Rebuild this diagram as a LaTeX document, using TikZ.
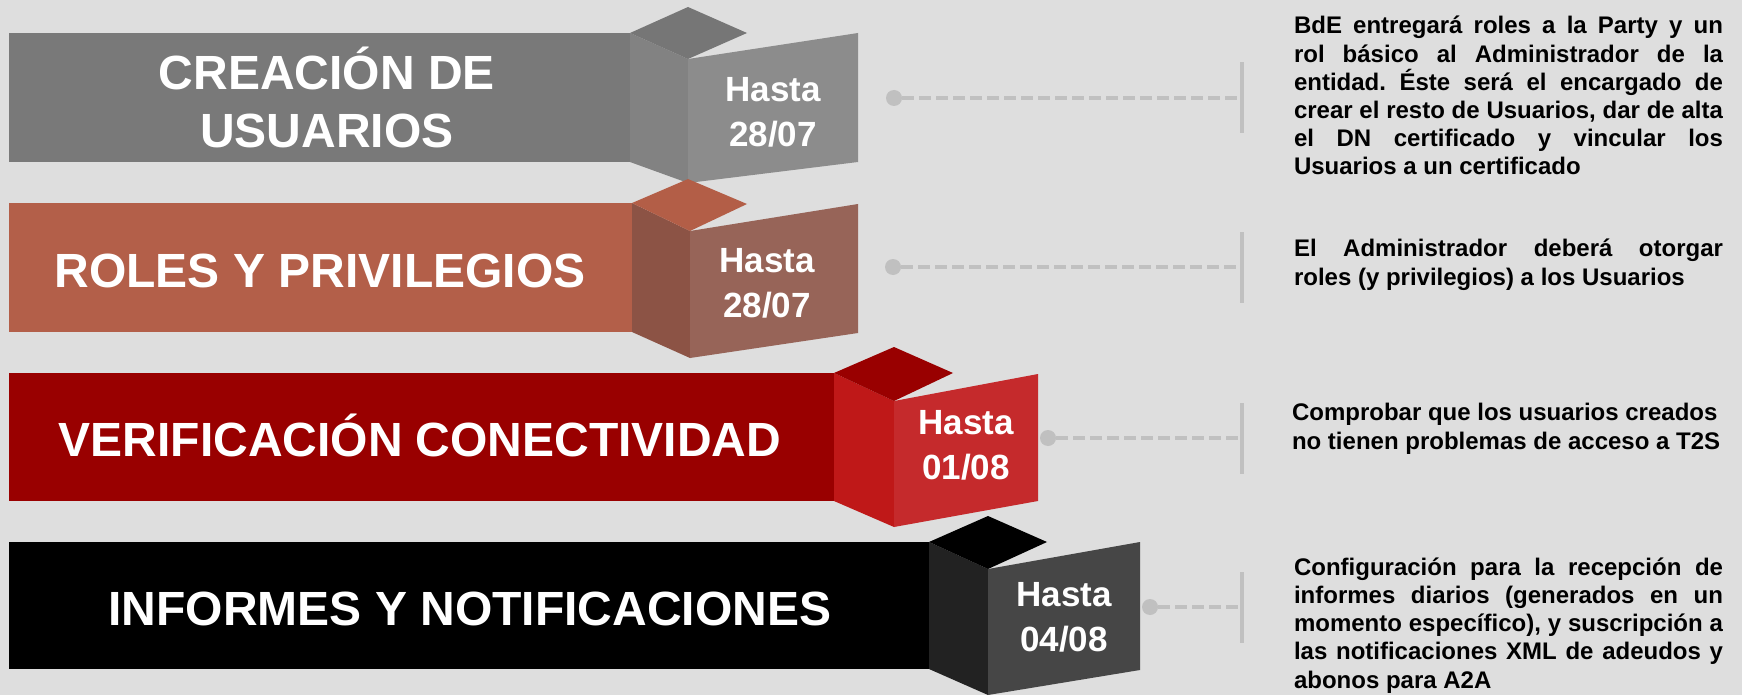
\documentclass[tikz,border=0pt]{standalone}
\usepackage{fontspec}
\setmainfont{Liberation Sans}
\frenchspacing
\definecolor{bg}{HTML}{DEDEDE}
\definecolor{linegray}{HTML}{C0C0C0}
\definecolor{cAbar}{HTML}{797979}
\definecolor{cAside}{HTML}{828282}
\definecolor{cAtop}{HTML}{767676}
\definecolor{cAfront}{HTML}{8C8C8C}
\definecolor{cBbar}{HTML}{B35F49}
\definecolor{cBside}{HTML}{8C5345}
\definecolor{cBtop}{HTML}{B35E47}
\definecolor{cBfront}{HTML}{976458}
\definecolor{cCbar}{HTML}{990000}
\definecolor{cCside}{HTML}{BF1818}
\definecolor{cCtop}{HTML}{990000}
\definecolor{cCfront}{HTML}{C52A2C}
\definecolor{cDbar}{HTML}{000000}
\definecolor{cDside}{HTML}{222222}
\definecolor{cDtop}{HTML}{000000}
\definecolor{cDfront}{HTML}{464646}
\newcommand\jl[1]{\makebox[429pt][s]{#1}}
\begin{document}
\begin{tikzpicture}[x=1pt,y=-1pt,
  every node/.style={inner sep=0pt, outer sep=0pt},
  barbox/.style={rectangle, anchor=north west, minimum height=129pt},
  bartext/.style={text=white, font=\fontsize{48}{58}\selectfont\bfseries, align=center, anchor=base},
  hastatext/.style={text=white, font=\fontsize{35}{45}\selectfont\bfseries, align=center, anchor=base},
  desc/.style={text=black, font=\fontsize{24}{28.2}\selectfont\bfseries\frenchspacing, align=left, anchor=base west},
  dotnode/.style={circle, fill=linegray, minimum size=16pt},
  ticknode/.style={rectangle, fill=linegray, minimum width=4pt, minimum height=71pt},
  link/.style={draw=linegray, line width=4pt, dash pattern=on 12pt off 5pt},
]
\fill[bg] (0,0) rectangle (1742,695);
\useasboundingbox (0,0) rectangle (1742,695);

% ---------- Row 1 ----------
\node[barbox, fill=cAbar, minimum width=621pt] (bar1) at (9,33) {};
\fill[cAside] (630,33) -- (688,59) -- (688,183) -- (630,162) -- cycle;
\fill[cAtop] (630,33) -- (688,7) -- (747,33) -- (688,59) -- cycle;
\fill[cAfront] (688,59) -- (858,33) -- (858,162) -- (688,183) -- cycle;
\node[bartext] (t1) at (327,148) {CREACIÓN DE\\USUARIOS};
\node[hastatext] (h1) at (773,147) {Hasta\\28/07};

% ---------- Row 2 ----------
\node[barbox, fill=cBbar, minimum width=623pt] (bar2) at (9,203) {};
\fill[cBside] (632,203) -- (690,231) -- (690,358) -- (632,332) -- cycle;
\fill[cBtop] (632,203) -- (688,179) -- (747,204) -- (690,231) -- cycle;
\fill[cBfront] (690,231) -- (858,204) -- (858,333) -- (690,358) -- cycle;
\node[bartext] (t2) at (320,287) {ROLES Y PRIVILEGIOS};
\node[hastatext] (h2) at (767,317) {Hasta\\28/07};

% ---------- Row 3 ----------
\node[barbox, fill=cCbar, minimum width=825pt, minimum height=128pt] (bar3) at (9,373) {};
\fill[cCside] (834,373) -- (894,401) -- (894,527) -- (834,501) -- cycle;
\fill[cCtop] (834,373) -- (894,347) -- (953,373) -- (894,401) -- cycle;
\fill[cCfront] (894,401) -- (1038,374) -- (1038,501) -- (894,527) -- cycle;
\node[bartext] (t3) at (420,456) {VERIFICACIÓN CONECTIVIDAD};
\node[hastatext] (h3) at (966,479) {Hasta\\01/08};

% ---------- Row 4 ----------
\node[barbox, fill=cDbar, minimum width=920pt, minimum height=127pt] (bar4) at (9,542) {};
\fill[cDside] (929,542) -- (988,569) -- (988,695) -- (929,669) -- cycle;
\fill[cDtop] (929,542) -- (988,516) -- (1047,542) -- (988,569) -- cycle;
\fill[cDfront] (988,569) -- (1140,542) -- (1140,670) -- (988,695) -- cycle;
\node[bartext] (t4) at (470,625) {INFORMES Y NOTIFICACIONES};
\node[hastatext] (h4) at (1064,651) {Hasta\\04/08};

% ---------- Connectors ----------
\node[dotnode] (d1) at (894,98) {};
\node[ticknode] (k1) at (1242,98) {};
\draw[link] (d1) -- (k1);
\node[dotnode] (d2) at (893,267) {};
\node[ticknode] (k2) at (1242,267) {};
\draw[link] (d2) -- (k2);
\node[dotnode] (d3) at (1048,438) {};
\node[ticknode] (k3) at (1242,438) {};
\draw[link] (d3) -- (k3);
\node[dotnode] (d4) at (1150,607) {};
\node[ticknode] (k4) at (1242,607) {};
\draw[link] (d4) -- (k4);

% ---------- Descriptions ----------
\node[desc] (p1) at (1294,175) {\jl{BdE entregará roles a la Party y un}\\
\jl{rol básico al Administrador de la}\\
\jl{entidad. Éste será el encargado de}\\
\jl{crear el resto de Usuarios, dar de alta}\\
\jl{el DN certificado y vincular los}\\
Usuarios a un certificado};
\node[desc] (p2) at (1294,285) {\jl{El Administrador deberá otorgar}\\
roles (y privilegios) a los Usuarios};
\node[desc] (p3) at (1292,449) {Comprobar que los usuarios creados\\
no tienen problemas de acceso a T2S};
\node[desc] (p4) at (1294,688) {\jl{Configuración para la recepción de}\\
\jl{informes diarios (generados en un}\\
\jl{momento específico), y suscripción a}\\
\jl{las notificaciones XML de adeudos y}\\
abonos para A2A};
\end{tikzpicture}
\end{document}
